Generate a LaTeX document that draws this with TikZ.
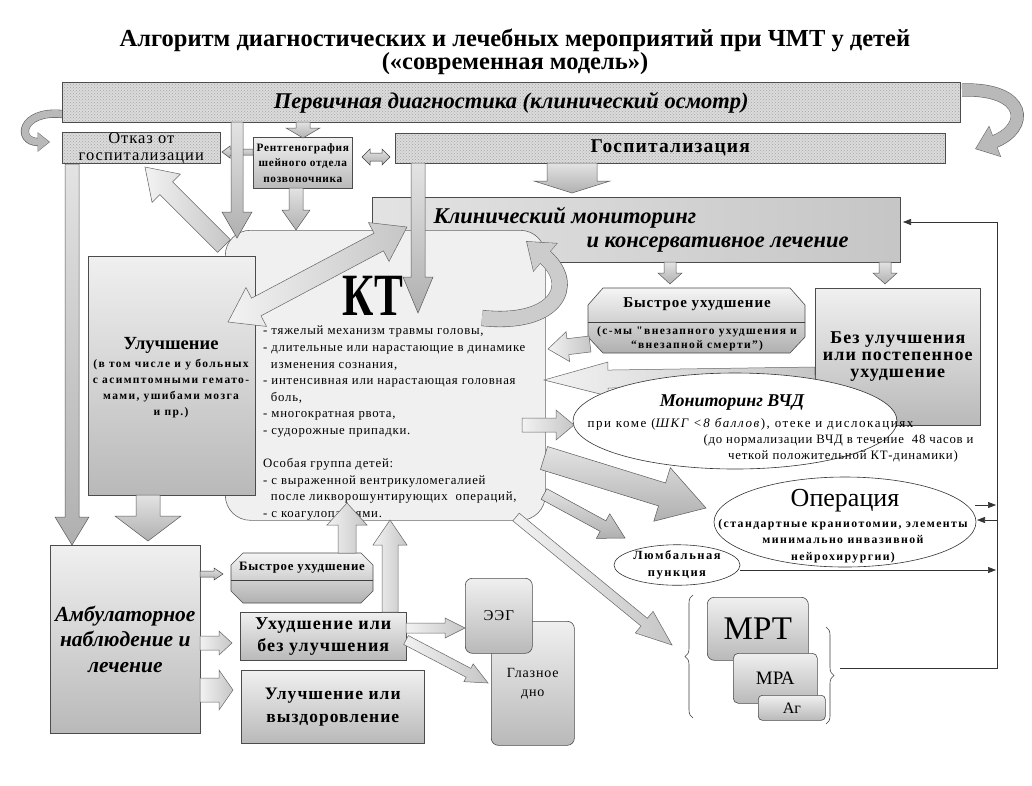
\documentclass[tikz,border=0pt]{standalone}
\usepackage{fontspec}
\setmainfont{Liberation Serif}
\newfontfamily\spaced[LetterSpace=6]{Liberation Serif}
\newfontfamily\wide[LetterSpace=12]{Liberation Serif}
\usetikzlibrary{calc,arrows.meta,decorations.pathreplacing,shapes.geometric,patterns}
\newcommand\fsz[2]{\fontsize{#1}{#2}\selectfont}
% block arrow: [style]{start}{end}{half shaft}{half head}{head length}
\newcommand\barrow[6][]{%
 \path[arr,#1] let \p1=($(#3)-(#2)$), \n1={atan2(\y1,\x1)} in
 ($(#2)+(\n1+90:#4)$) -- ($(#3)+(\n1+180:#6)+(\n1+90:#4)$) -- ($(#3)+(\n1+180:#6)+(\n1+90:#5)$) -- (#3) -- ($(#3)+(\n1+180:#6)+(\n1-90:#5)$) -- ($(#3)+(\n1+180:#6)+(\n1-90:#4)$) -- ($(#2)+(\n1-90:#4)$) -- cycle;}
\newcommand\dbarrow[6][]{%
 \path[arr,#1] let \p1=($(#3)-(#2)$), \n1={atan2(\y1,\x1)} in
 (#2) -- ($(#2)+(\n1:#6)+(\n1+90:#5)$) -- ($(#2)+(\n1:#6)+(\n1+90:#4)$) -- ($(#3)+(\n1+180:#6)+(\n1+90:#4)$) -- ($(#3)+(\n1+180:#6)+(\n1+90:#5)$) -- (#3) -- ($(#3)+(\n1+180:#6)+(\n1-90:#5)$) -- ($(#3)+(\n1+180:#6)+(\n1-90:#4)$) -- ($(#2)+(\n1:#6)+(\n1-90:#4)$) -- ($(#2)+(\n1:#6)+(\n1-90:#5)$) -- cycle;}
\tikzset{
 stip/.style={draw=black!70, line width=0.6pt, preaction={fill=gray!28}, pattern=crosshatch dots, pattern color=gray!70, inner sep=0pt},
 gbox/.style={draw=black!70, line width=0.6pt, top color=gray!12, bottom color=gray!55, inner sep=0pt},
 rbox/.style={gbox, rounded corners=7pt},
 arr/.style={draw=black!65, line width=0.5pt, top color=gray!22, bottom color=gray!62},
 warr/.style={draw=black!75, line width=0.5pt, fill=white},
 larr/.style={draw=black!60, line width=0.5pt, left color=gray!10, right color=gray!45},
 curvo/.style={draw=black!60, line width=#1},
 curv/.style={draw=gray!55, line width=#1},
 fline/.style={draw=black!80, line width=0.6pt},
 ftip/.style={-{Triangle[width=6pt,length=8pt]}},
 ell/.style={ellipse, draw=black!80, line width=0.6pt, fill=white, inner sep=0pt},
}
\begin{document}
\begin{tikzpicture}[x=1pt,y=-1pt]
\useasboundingbox[fill=white] (0,0) rectangle (1032,785);
% title
\node[font=\bfseries\fsz{24.5}{18}, inner sep=0pt, align=center] (title) at (515,52) {Алгоритм диагностических и лечебных мероприятий при ЧМТ у детей\\(«современная модель»)};
% curved arrows at top
\draw[curvo=8.2pt, -{Triangle[width=19pt,length=12.5pt]}] (62,114) .. controls (20,110) and (16,142) .. (50,142);
\draw[curv=7pt, shorten >=0.9pt, -{Triangle[width=17pt,length=11pt]}] (62,114) .. controls (20,110) and (16,142) .. (50,142);
\draw[curvo=13.2pt, -{Triangle[width=32pt,length=21.5pt]}] (962,90) .. controls (1028,88) and (1030,128) .. (975,149);
\draw[curv=12pt, shorten >=1pt, -{Triangle[width=30pt,length=20pt]}] (962,90) .. controls (1028,88) and (1030,128) .. (975,149);
% top boxes
\node[stip, anchor=north west, minimum width=898pt, minimum height=40pt, font=\bfseries\itshape\fsz{22.5}{22}] (prim) at (62,82) {Первичная диагностика (клинический осмотр)};
\node[stip, anchor=north west, minimum width=158pt, minimum height=31pt, align=center, font=\spaced\fsz{16.5}{17}] (otkaz) at (62,132) {Отказ от\\госпитализации};
\node[gbox, anchor=north west, minimum width=99pt, minimum height=51pt, align=center, font=\spaced\bfseries\fsz{11.3}{15.5}] (rentg) at (253,137) {Рентгенография\\шейного отдела\\позвоночника};
\node[stip, anchor=north west, minimum width=550pt, minimum height=30pt, font=\spaced\bfseries\fsz{19.5}{19}] (gosp) at (395,133) {Госпитализация};
% arrows among top boxes
\coordinate (a1s) at (303,122); \coordinate (a1e) at (303,138);
\barrow{a1s}{a1e}{7pt}{17pt}{10pt}
\coordinate (a2s) at (253,152); \coordinate (a2e) at (222,152);
\barrow[warr]{a2s}{a2e}{3pt}{6pt}{8pt}
\coordinate (a3s) at (362,157); \coordinate (a3e) at (390,157);
\dbarrow[warr]{a3s}{a3e}{4pt}{8pt}{8pt}
\coordinate (a9s) at (572,163); \coordinate (a9e) at (572,193);
\barrow{a9s}{a9e}{25pt}{38pt}{12pt}
% clinical monitoring
\node[gbox, anchor=north west, minimum width=528pt, minimum height=65pt, left color=gray!22, right color=gray!45] (klin) at (372,197) {};
\node[font=\bfseries\itshape\fsz{22.5}{22}, anchor=west] (klin1) at (430,218) {Клинический мониторинг};
\node[font=\bfseries\itshape\fsz{22.5}{22}, anchor=west] (klin2) at (583,245) {и консервативное лечение};
% KT
\node[draw=black!60, line width=0.6pt, fill=gray!12, rounded corners=25pt, minimum width=320pt, minimum height=290pt, anchor=north west] (kt) at (225,230) {};
\node[font=\bfseries\fsz{60}{60}, inner sep=0pt] (kttitle) at (373,296) {\scalebox{0.72}[1]{КТ}};
\node[font=\spaced\fsz{12.8}{16.6}, align=left, anchor=north west, inner sep=0pt] (kttext) at (263,326) {%
- тяжелый механизм травмы головы,\\
- длительные или нарастающие в динамике\\
\hspace*{0.6em}изменения сознания,\\
- интенсивная или нарастающая головная\\
\hspace*{0.6em}боль,\\
- многократная рвота,\\
- судорожные припадки.\\[16.6pt]
Особая группа детей:\\
- с выраженной вентрикуломегалией\\
\hspace*{0.6em}после ликворошунтирующих~~операций,\\
- с коагулопатиями.};
% arrows into KT from top
\coordinate (a6s) at (72,164); \coordinate (a6e) at (72,545);
\barrow{a6s}{a6e}{7pt}{17pt}{28pt}
\coordinate (a4s) at (237,122); \coordinate (a4e) at (237,238);
\barrow{a4s}{a4e}{6pt}{15pt}{26pt}
\coordinate (a5s) at (296,188); \coordinate (a5e) at (296,230);
\barrow{a5s}{a5e}{7pt}{14pt}{20pt}
\coordinate (a7s) at (224,246); \coordinate (a7e) at (145,167);
\barrow[larr]{a7s}{a7e}{9pt}{20pt}{30pt}
\coordinate (a8s) at (418,163); \coordinate (a8e) at (418,313);
\barrow{a8s}{a8e}{7pt}{15pt}{36pt}
% improvement box
\node[gbox, anchor=north west, minimum width=167pt, minimum height=239pt] (uluch) at (88,256) {};
\node[font=\bfseries\fsz{18.5}{20}] (uluch1) at (171,345) {Улучшение};
\node[font=\wide\bfseries\fsz{11.5}{16}, align=center] (uluch2) at (171,389) {(в том числе и у больных\\с асимптомными гемато-\\мами, ушибами мозга\\и пр.)};
\coordinate (a12s) at (228,322); \coordinate (a12e) at (407,227);
\dbarrow[larr]{a12s}{a12e}{10pt}{22pt}{32pt}
% curved arrow KT -> klin
\draw[curvo=16.2pt, -{Triangle[width=36pt,length=25.5pt]}] (482,318) .. controls (556,326) and (578,285) .. (526,241);
\draw[curv=15pt, draw=gray!40, shorten >=1pt, -{Triangle[width=34pt,length=24pt]}] (482,318) .. controls (556,326) and (578,285) .. (526,241);
% rapid deterioration octagon
\path[gbox, top color=gray!8, bottom color=gray!62] (603,288) -- (790,288) -- (805,305) -- (805,337) -- (790,353) -- (603,353) -- (588,337) -- (588,305) -- cycle;
\draw[black!75, line width=0.6pt] (588,322) -- (805,322);
\node[font=\spaced\bfseries\fsz{15}{14}] (bys1) at (697,304) {Быстрое ухудшение};
\node[font=\wide\bfseries\fsz{11.5}{14}, align=center] (bys1b) at (697,339) {(с-мы "внезапного ухудшения и\\“внезапной смерти”)};
\node[gbox, anchor=north west, minimum width=165pt, minimum height=137pt, align=center, font=\spaced\bfseries\fsz{18}{17}] (bez) at (815,288) {Без улучшения\\или постепенное\\ухудшение};
\coordinate (a10s) at (670,262); \coordinate (a10e) at (670,284);
\barrow{a10s}{a10e}{6pt}{12pt}{11pt}
\coordinate (a11s) at (885,262); \coordinate (a11e) at (885,284);
\barrow{a11s}{a11e}{6pt}{12pt}{11pt}
\coordinate (a14s) at (590,344); \coordinate (a14e) at (548,349);
\barrow[larr]{a14s}{a14e}{8pt}{15pt}{20pt}
\coordinate (a15s) at (815,376); \coordinate (a15e) at (544,380);
\barrow[larr]{a15s}{a15e}{9pt}{17pt}{64pt}
% ICP monitoring ellipse
\node[ell, minimum width=324pt, minimum height=96pt] (vchd) at (735,421) {};
\node[font=\bfseries\itshape\fsz{18}{16}] (vchdt) at (732,403) {Мониторинг ВЧД};
\node[font=\wide\fsz{13}{14}, anchor=west] (vchd1) at (584,424) {при коме (\textit{ШКГ <8 баллов}), отеке и дислокациях};
\node[font=\spaced\fsz{12.8}{14}, anchor=west] (vchd2) at (700,440) {(до нормализации ВЧД в течение~~48 часов и};
\node[font=\spaced\fsz{12.8}{14}] (vchd3) at (843,456) {четкой положительной КТ-динамики)};
% arrows from KT to the right
\coordinate (a16s) at (522,425); \coordinate (a16e) at (574,425);
\barrow[larr]{a16s}{a16e}{7pt}{15pt}{18pt}
\coordinate (a17s) at (544,458); \coordinate (a17e) at (706,508);
\barrow{a17s}{a17e}{12pt}{28pt}{46pt}
\coordinate (a18s) at (544,494); \coordinate (a18e) at (625,538);
\barrow{a18s}{a18e}{6pt}{14pt}{25pt}
\coordinate (a19s) at (516,517); \coordinate (a19e) at (672,645);
\barrow[larr]{a19s}{a19e}{5pt}{14pt}{36pt}
% operation and lumbar puncture
\node[ell, minimum width=262pt, minimum height=90pt] (oper) at (845,522) {};
\node[font=\fsz{26}{26}] (opert) at (845,501) {Операция};
\node[font=\wide\bfseries\fsz{11.8}{16.5}, align=center] (operb) at (843,541) {(стандартные краниотомии, элементы\\минимально инвазивной\\нейрохирургии)};
\node[ell, minimum width=126pt, minimum height=40pt, font=\wide\bfseries\fsz{12.5}{17}, align=center] (lumb) at (677,565) {Люмбальная\\пункция};
% feedback line on the right
\coordinate (fbtop) at (997,222);
\coordinate (fbbot) at (997,668);
\coordinate (mrtbr) at (840,668);
\coordinate (kl) at (903,222);
\coordinate (op1s) at (975,505); \coordinate (op1e) at (996,505);
\coordinate (op2s) at (997,520); \coordinate (op2e) at (977,520);
\coordinate (lus) at (740,570); \coordinate (lue) at (996,570);
\draw[fline] (mrtbr) -- (fbbot) -- (fbtop);
\draw[fline, ftip] (fbtop) -- (kl);
\draw[fline, ftip] (op1s) -- (op1e);
\draw[fline, ftip] (op2s) -- (op2e);
\draw[fline, ftip] (lus) -- (lue);
% bottom part
\coordinate (a20s) at (148,495); \coordinate (a20e) at (148,541);
\barrow{a20s}{a20e}{12pt}{33pt}{25pt}
\node[gbox, anchor=north west, minimum width=150pt, minimum height=188pt, align=center, font=\bfseries\itshape\fsz{21.5}{25.5}] (amb) at (50,545) {Амбулаторное\\наблюдение и\\лечение};
\path[gbox, top color=gray!8, bottom color=gray!62] (243,553) -- (361,553) -- (373,565) -- (373,591) -- (361,603) -- (243,603) -- (231,591) -- (231,565) -- cycle;
\draw[black!75, line width=0.6pt] (231,580) -- (373,580);
\node[font=\spaced\bfseries\fsz{12.8}{12}] (bys2) at (302,568) {Быстрое ухудшение};
\node[gbox, anchor=north west, minimum width=166pt, minimum height=48pt, align=center, font=\spaced\bfseries\fsz{18}{22}] (uhud) at (240,612) {Ухудшение или\\без улучшения};
\node[gbox, anchor=north west, minimum width=183pt, minimum height=73pt, align=center, font=\spaced\bfseries\fsz{17.5}{23}] (ulvy) at (241,670) {Улучшение или\\выздоровление};
\coordinate (a21s) at (200,574); \coordinate (a21e) at (223,574);
\barrow[warr]{a21s}{a21e}{3pt}{6pt}{9pt}
\coordinate (a22s) at (200,643); \coordinate (a22e) at (232,643);
\barrow[larr]{a22s}{a22e}{7pt}{12pt}{13pt}
\coordinate (a23s) at (200,690); \coordinate (a23e) at (233,690);
\barrow[larr]{a23s}{a23e}{12pt}{20pt}{14pt}
\coordinate (a24s) at (347,553); \coordinate (a24e) at (347,503);
\barrow[larr]{a24s}{a24e}{9pt}{20pt}{22pt}
\coordinate (a25s) at (390,612); \coordinate (a25e) at (390,520);
\barrow[larr]{a25s}{a25e}{8pt}{17pt}{25pt}
% EEG and fundus
\node[rbox, anchor=north west, minimum width=83pt, minimum height=124pt, align=center, font=\spaced\fsz{14}{19}] (glaz) at (491,621) {Глазное\\дно};
\node[rbox, anchor=north west, minimum width=67pt, minimum height=75pt, font=\spaced\fsz{15}{14}] (eeg) at (465,578) {ЭЭГ};
\coordinate (a26s) at (406,628); \coordinate (a26e) at (465,628);
\barrow[larr]{a26s}{a26e}{5pt}{10pt}{20pt}
\coordinate (a27s) at (406,640); \coordinate (a27e) at (488,683);
\barrow[larr]{a27s}{a27e}{5pt}{10pt}{22pt}
% MRI group
\node[rbox, anchor=north west, minimum width=101pt, minimum height=63pt, font=\fsz{33}{32}] (mrt) at (707,597) {МРТ};
\node[rbox, anchor=north west, minimum width=84pt, minimum height=50pt, rounded corners=5pt, font=\fsz{19}{18}] (mra) at (733,653) {МРА};
\node[rbox, anchor=north west, minimum width=67pt, minimum height=25pt, rounded corners=4pt, font=\fsz{16}{15}] (ag) at (758,695) {Аг};
\draw[black!75, line width=0.6pt, decorate, decoration={brace, amplitude=8pt}] (693,718) -- (693,595);
\draw[black!75, line width=0.6pt, decorate, decoration={brace, amplitude=8pt}] (826,627) -- (826,724);
\end{tikzpicture}
\end{document}
